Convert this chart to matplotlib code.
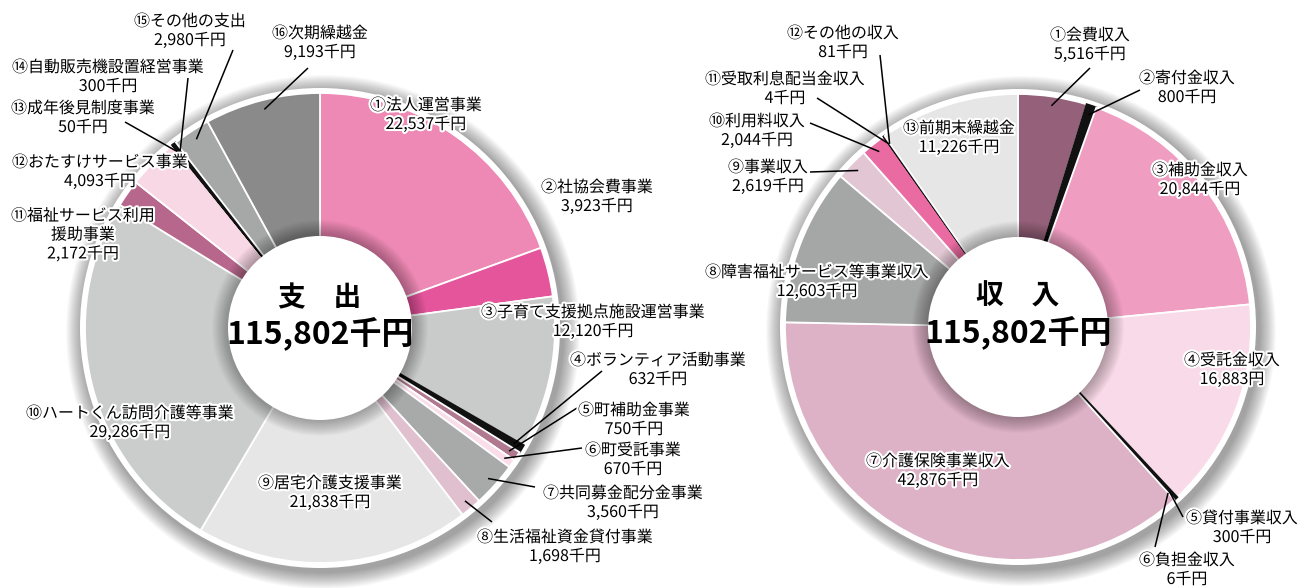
import numpy as np
import matplotlib.pyplot as plt
import matplotlib.patheffects as pe
from matplotlib.patches import Circle

plt.rcParams['font.family'] = ['Noto Sans CJK JP', 'DejaVu Sans']

# 支出
out_labels = ['①法人運営事業', '②社協会費事業', '③子育て支援拠点施設運営事業', '④ボランティア活動事業',
              '⑤町補助金事業', '⑥町受託事業', '⑦共同募金配分金事業', '⑧生活福祉資金貸付事業',
              '⑨居宅介護支援事業', '⑩ハートくん訪問介護等事業', '⑪福祉サービス利用\n援助事業',
              '⑫おたすけサービス事業', '⑬成年後見制度事業', '⑭自動販売機設置経営事業',
              '⑮その他の支出', '⑯次期繰越金']
out_values = [22537, 3923, 12120, 632, 750, 670, 3560, 1698, 21838, 29286, 2172, 4093, 50, 300, 2980, 9193]
out_colors = ['#EE89B5', '#E4559B', '#C9CACA', '#111111', '#B0798F', '#F9DDE9', '#A8A9A9', '#E0C0CF',
              '#E6E6E6', '#CBCCCC', '#B8678C', '#F9D8E6', '#111111', '#111111', '#A6A7A7', '#8A8A8A']

# 収入
in_labels = ['①会費収入', '②寄付金収入', '③補助金収入', '④受託金収入', '⑤貸付事業収入', '⑥負担金収入',
             '⑦介護保険事業収入', '⑧障害福祉サービス等事業収入', '⑨事業収入', '⑩利用料収入',
             '⑪受取利息配当金収入', '⑫その他の収入', '⑬前期末繰越金']
in_values = [5516, 800, 20844, 16883, 300, 6, 42876, 12603, 2619, 2044, 4, 81, 11226]
in_units = ['千円'] * 13
in_units[3] = '円'
in_colors = ['#94607A', '#111111', '#EF9DC1', '#F9DAE8', '#111111', '#111111', '#DEB2C6', '#A5A6A6',
             '#E2C6D3', '#E96BA2', '#111111', '#111111', '#E6E6E6']

W, H = 1312, 588
fig = plt.figure(figsize=(W / 100, H / 100), dpi=100)
ax = fig.add_axes([0, 0, 1, 1])

stroke = [pe.withStroke(linewidth=3, foreground='white')]


def donut(cx, cy, r, r_in, values, colors, title):
    c = (cx, H - cy)
    # soft shadow
    for k in range(22, 5, -1):
        ax.add_patch(Circle((c[0] + 3, c[1] - 4), r + k, color='black', alpha=0.022, lw=0, zorder=1))
    ax.add_patch(Circle(c, r + 5, color='white', lw=0, zorder=2))
    wedges, _ = ax.pie(values, colors=colors, startangle=90, counterclock=False, center=c, radius=r,
                       wedgeprops=dict(edgecolor='white', linewidth=1.3))
    for w, col in zip(wedges, colors):
        w.set_zorder(3)
        if col == '#111111':
            w.set_edgecolor('#111111')
            w.set_linewidth(1.5)
    # inner shade
    for k in range(16, 0, -1):
        ax.add_patch(Circle(c, r_in + k, color='black', alpha=0.018, lw=0, zorder=4))
    ax.add_patch(Circle(c, r_in, color='white', lw=0, zorder=5))
    ax.text(c[0], c[1] + 30, title, ha='center', va='center', fontsize=20, fontweight='bold', zorder=6)
    ax.text(c[0], c[1] - 5, '115,802千円', ha='center', va='center', fontsize=23, fontweight='bold', zorder=6)


def anchor(cx, cy, r, values, i, frac=0.96):
    total = sum(values)
    cum = sum(values[:i]) + values[i] / 2
    th = np.deg2rad(90 - 360 * cum / total)
    return cx + r * frac * np.cos(th), (H - cy) + r * frac * np.sin(th)


def label(x, y, text):
    ax.text(x, H - y, text, ha='center', va='center', fontsize=11.5, linespacing=1.15,
            path_effects=stroke, zorder=8)


def leader(p, x, y):
    ax.plot([p[0], x], [p[1], H - y], color='black', lw=1.1, zorder=7, solid_capstyle='butt')


# left donut
LX, LY, LR = 320, 328, 235
donut(LX, LY, LR, 92, out_values, out_colors, '支　出')
out_pos = [(426, 115), (597, 197), (593, 322), (658, 370), (634, 420), (633, 460), (623, 503),
           (565, 547), (330, 493), (130, 423), (83, 235), (100, 172), (83, 118), (108, 77),
           (190, 31), (320, 43)]
out_lead = {3: (602, 371), 4: (577, 408), 5: (582, 448), 6: (535, 487), 7: (492, 522),
            12: (125, 122), 13: (188, 78), 14: (233, 50), 15: (308, 68)}
for i, (lab, v) in enumerate(zip(out_labels, out_values)):
    x, y = out_pos[i]
    label(x, y, f'{lab}\n{v:,}千円')
    if i in out_lead:
        leader(anchor(LX, LY, LR, out_values, i), *out_lead[i])

# right donut
RX, RY, RR = 1018, 327, 233
donut(RX, RY, RR, 90, in_values, in_colors, '収　入')
in_pos = [(1090, 45), (1187, 88), (1200, 180), (1232, 370), (1242, 528), (1187, 570), (938, 471),
          (817, 282), (768, 177), (757, 131), (785, 89), (843, 43), (959, 138)]
in_lead = {0: (1090, 68), 1: (1140, 90), 4: (1183, 517), 5: (1155, 547),
           8: (810, 172), 9: (810, 123), 10: (817, 98), 11: (880, 55)}
for i, (lab, v) in enumerate(zip(in_labels, in_values)):
    x, y = in_pos[i]
    label(x, y, f'{lab}\n{v:,}{in_units[i]}')
    if i in in_lead:
        leader(anchor(RX, RY, RR, in_values, i), *in_lead[i])

ax.set_xlim(0, W)
ax.set_ylim(0, H)
ax.set_aspect('equal')
ax.axis('off')

fig.savefig('out.png', dpi=100, facecolor='white')
